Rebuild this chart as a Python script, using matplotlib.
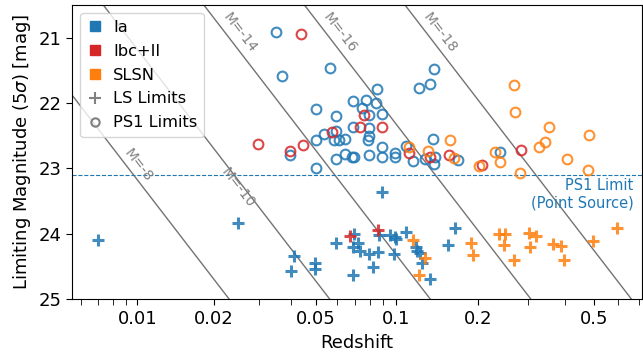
import numpy as np
import matplotlib
matplotlib.use("Agg")
import matplotlib.pyplot as plt
from matplotlib.lines import Line2D

# flat LCDM used for the distance axis
H0, Om, c = 70.0, 0.3, 299792.458

def lum_dist(z):
    out = []
    for zi in np.atleast_1d(z):
        zz = np.linspace(0, zi, 400)
        out.append((1 + zi) * c / H0 * np.trapezoid(1 / np.sqrt(Om * (1 + zz)**3 + 1 - Om), zz))
    return np.array(out)

# PS1 limits (open circles)
ia_ps1_z = [0.0349, 0.0368, 0.0567, 0.0852, 0.1217, 0.1338, 0.1388, 0.0693, 0.0773, 0.0843,
            0.0744, 0.0497, 0.0595, 0.0793, 0.0890, 0.0691, 0.0795, 0.0795, 0.0784, 0.0536,
            0.0595, 0.0497, 0.0584, 0.0612, 0.0645, 0.0397, 0.0595, 0.0644, 0.0687, 0.0698,
            0.0795, 0.0890, 0.0890, 0.0995, 0.0995, 0.1089, 0.1162, 0.0497, 0.1369, 0.1288,
            0.1399, 0.1388, 0.1696, 0.2383]
ia_ps1_m = [20.92, 21.59, 21.47, 21.79, 21.77, 21.71, 21.48, 21.97, 21.96, 22.00,
            22.07, 22.09, 22.20, 22.18, 22.17, 22.36, 22.38, 22.50, 22.57, 22.47,
            22.43, 22.56, 22.56, 22.56, 22.55, 22.80, 22.85, 22.78, 22.82, 22.82,
            22.79, 22.67, 22.82, 22.77, 22.82, 22.66, 22.89, 23.00, 22.55, 22.86,
            22.82, 22.94, 22.88, 22.75]
cc_ps1_z = [0.0437, 0.0298, 0.0397, 0.0446, 0.0575, 0.0734, 0.0761, 0.0890, 0.1122, 0.1341,
            0.1574, 0.2069, 0.2830]
cc_ps1_m = [20.94, 22.63, 22.73, 22.64, 22.45, 22.36, 22.19, 22.36, 22.77, 22.83,
            22.80, 22.95, 22.72]
sl_ps1_z = [0.1122, 0.1314, 0.1589, 0.1635, 0.2013, 0.2287, 0.2396, 0.2681, 0.2702, 0.2814,
            0.3250, 0.3424, 0.3532, 0.4068, 0.4793, 0.4764]
sl_ps1_m = [22.67, 22.74, 22.56, 22.84, 22.97, 22.75, 22.90, 21.72, 22.14, 23.07,
            22.67, 22.60, 22.36, 22.85, 22.49, 23.02]

# LS limits (plus signs)
ia_ls_z = [0.0070, 0.0249, 0.0409, 0.0400, 0.0496, 0.0496, 0.0595, 0.0696, 0.0690, 0.0723,
           0.0734, 0.0795, 0.0693, 0.0886, 0.0869, 0.0860, 0.0823, 0.0948, 0.0995, 0.1003,
           0.1092, 0.0983, 0.1189, 0.1202, 0.1229, 0.1247, 0.1338, 0.1562, 0.1653]
ia_ls_m = [24.10, 23.84, 24.34, 24.58, 24.45, 24.54, 24.15, 24.01, 24.20, 24.15,
           24.26, 24.31, 24.64, 23.36, 24.02, 24.28, 24.51, 24.02, 24.05, 24.09,
           23.98, 24.31, 24.20, 24.26, 24.30, 24.45, 24.69, 24.17, 23.91]
cc_ls_z = [0.0674, 0.0860]
cc_ls_m = [24.03, 23.94]
sl_ls_z = [0.1156, 0.1288, 0.1217, 0.1888, 0.1914, 0.2377, 0.2494, 0.2468, 0.2674, 0.3012,
           0.3173, 0.3040, 0.3638, 0.3862, 0.3969, 0.4950, 0.5941]
sl_ls_m = [24.10, 24.38, 24.63, 24.15, 24.32, 24.01, 24.01, 24.17, 24.40, 23.99,
           24.03, 24.21, 24.16, 24.19, 24.40, 24.11, 23.92]

# absolute magnitude guide lines and their labels (as printed on the chart)
line_M = [-10, -12, -14, -16, -18]
line_labels = ["M=-8", "M=-10", "M=-14", "M=-16", "M=-18"]
label_z = [0.01005, 0.0248, 0.0253, 0.0616, 0.1452]
label_m = [22.95, 23.30, 20.93, 20.93, 20.93]

ps1_limit = 23.1
major_z = [0.01, 0.02, 0.05, 0.1, 0.2, 0.5]
major_lbl = ["0.01", "0.02", "0.05", "0.1", "0.2", "0.5"]
minor_z = [0.006, 0.007, 0.008, 0.009, 0.03, 0.04, 0.06, 0.07, 0.08, 0.09, 0.3, 0.4, 0.6, 0.7]

blue, red, orange, grey = "#1f77b4", "#d62728", "#ff7f0e", "grey"

fig = plt.figure(figsize=(6.43, 3.6), dpi=100)
ax = fig.add_axes([0.1124, 0.1697, 0.8856, 0.8163])

for zs, ms, col in [(ia_ps1_z, ia_ps1_m, blue), (cc_ps1_z, cc_ps1_m, red), (sl_ps1_z, sl_ps1_m, orange)]:
    ax.plot(lum_dist(zs), ms, "o", ms=7, mfc="none", mec=col, mew=1.5, alpha=0.85, zorder=3)
for zs, ms, col in [(ia_ls_z, ia_ls_m, blue), (cc_ls_z, cc_ls_m, red), (sl_ls_z, sl_ls_m, orange)]:
    ax.plot(lum_dist(zs), ms, "+", ms=8, mec=col, mew=2.2, alpha=0.85, zorder=3)

ax.set_xscale("log")
ax.set_xlim(23.8, 4380)
ax.set_ylim(25, 20.5)

zgrid = np.logspace(-3, 0.2, 200)
dgrid = lum_dist(zgrid)
for M in line_M:
    ax.plot(dgrid, M + 5 * np.log10(dgrid) + 25, color="0.45", lw=1, zorder=1)

# text angle of the guide lines on screen
p1 = ax.transData.transform((100, 22))
p2 = ax.transData.transform((1000, 27))
ang = np.degrees(np.arctan2(p2[1] - p1[1], p2[0] - p1[0]))
for lbl, zl, ml in zip(line_labels, label_z, label_m):
    ax.text(lum_dist(zl)[0], ml, lbl, rotation=ang, rotation_mode="anchor",
            ha="center", va="center", color="grey", fontsize=10)

ax.axhline(ps1_limit, color=blue, ls="--", lw=0.8, zorder=1)
ax.text(0.986, ps1_limit + 0.05, "PS1 Limit\n(Point Source)", transform=ax.get_yaxis_transform(),
        ha="right", va="top", color=blue, fontsize=10.5)

ax.set_xticks(lum_dist(major_z))
ax.set_xticklabels(major_lbl)
ax.set_xticks(lum_dist(minor_z), minor=True)
ax.set_xticklabels([], minor=True)
ax.set_yticks([21, 22, 23, 24, 25])
ax.tick_params(labelsize=13, length=4.5, which="both")
ax.set_xlabel("Redshift", fontsize=13)
ax.set_ylabel(r"Limiting Magnitude (5$\sigma$) [mag]", fontsize=13)

handles = [Line2D([], [], marker="s", ls="none", color=blue, ms=7),
           Line2D([], [], marker="s", ls="none", color=red, ms=7),
           Line2D([], [], marker="s", ls="none", color=orange, ms=7),
           Line2D([], [], marker="+", ls="none", color=grey, ms=8, mew=1.5),
           Line2D([], [], marker="o", ls="none", mec=grey, mfc="none", ms=6, mew=1.5)]
ax.legend(handles, ["Ia", "Ibc+II", "SLSN", "LS Limits", "PS1 Limits"], loc="upper left",
          fontsize=11.7, handlelength=1, handletextpad=0.6, labelspacing=0.55)

fig.savefig("out.png", dpi=100)
